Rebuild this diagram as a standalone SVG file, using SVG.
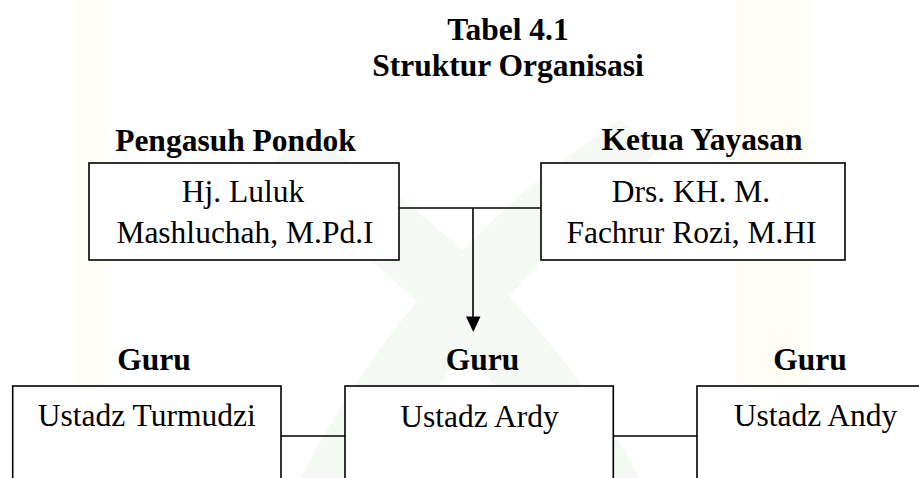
<svg xmlns="http://www.w3.org/2000/svg" width="919" height="478" viewBox="0 0 919 478">
  <defs>
    <style>
      .bold { font-family: "Liberation Serif", "Times New Roman", serif; font-weight: bold; font-size: 31.5px; fill: #000; text-anchor: middle; }
      .reg { font-family: "Liberation Serif", "Times New Roman", serif; font-size: 31.5px; fill: #000; text-anchor: middle; }
      .box { fill: #fff; stroke: #000; stroke-width: 1.6; }
      .line { fill: none; stroke: #000; stroke-width: 1.6; }
    </style>
  </defs>
  <rect width="919" height="478" fill="#fff"/>
  <g id="watermark">
    <rect x="76" y="0" width="32" height="478" fill="#fefdf6"/>
    <rect x="738" y="0" width="72" height="478" fill="#fefdf6"/>
    <path d="M300,478 Q420,250 620,120 L660,150 Q480,300 380,478 Z" fill="#f4f9f4"/>
    <path d="M300,130 Q520,260 640,478 L560,478 Q450,300 260,180 Z" fill="#f4f9f4"/>
  </g>
  <g id="title">
    <text class="bold" x="508" y="40">Tabel 4.1</text>
    <text class="bold" x="508" y="76">Struktur Organisasi</text>
  </g>
  <g id="connectors">
    <path class="line" d="M399,208 H541"/>
    <path class="line" d="M473,208 V317"/>
    <path d="M466,316.5 L480.5,316.5 L473.3,332 Z" fill="#000"/>
    <path class="line" d="M281,436 H345"/>
    <path class="line" d="M613,436 H697"/>
  </g>
  <g id="pengasuh">
    <text class="bold" x="235.5" y="151">Pengasuh Pondok</text>
    <rect class="box" x="89" y="163" width="310" height="97"/>
    <text class="reg" x="243" y="202">Hj. Luluk</text>
    <text class="reg" x="245" y="243">Mashluchah, M.Pd.I</text>
  </g>
  <g id="ketua">
    <text class="bold" x="702" y="150">Ketua Yayasan</text>
    <rect class="box" x="541" y="163" width="304" height="97"/>
    <text class="reg" x="691" y="202">Drs. KH. M.</text>
    <text class="reg" x="691.5" y="243">Fachrur Rozi, M.HI</text>
  </g>
  <g id="guru-turmudzi">
    <text class="bold" x="154" y="370">Guru</text>
    <rect class="box" x="12.7" y="386" width="268.3" height="100"/>
    <text class="reg" x="146.7" y="426">Ustadz Turmudzi</text>
  </g>
  <g id="guru-ardy">
    <text class="bold" x="482.6" y="370">Guru</text>
    <rect class="box" x="345" y="386" width="268.3" height="100"/>
    <text class="reg" x="479.5" y="426.5">Ustadz Ardy</text>
  </g>
  <g id="guru-andy">
    <text class="bold" x="810" y="370">Guru</text>
    <rect class="box" x="697" y="386" width="240" height="100"/>
    <text class="reg" x="815.5" y="426">Ustadz Andy</text>
  </g>
</svg>
